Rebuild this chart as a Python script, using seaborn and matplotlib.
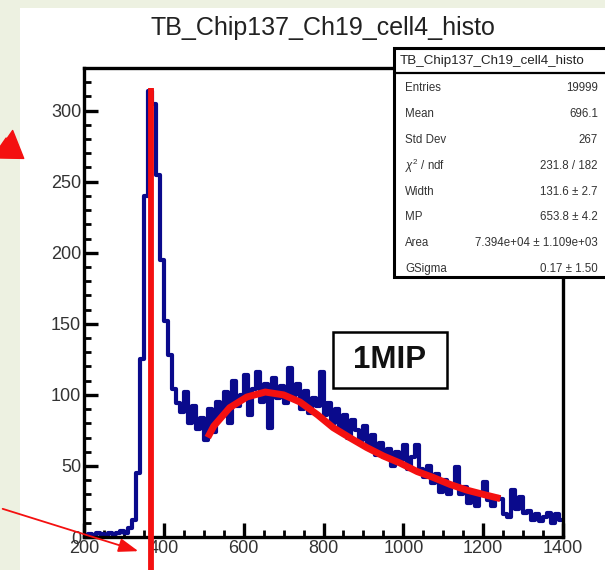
import numpy as np
import pandas as pd
import matplotlib
matplotlib.use("Agg")
import matplotlib.pyplot as plt
from matplotlib.patches import Rectangle, FancyArrowPatch
from matplotlib.ticker import MultipleLocator
import seaborn as sns

# ---------------- data ----------------
title = "TB_Chip137_Ch19_cell4_histo"
bin_lo, bin_width = 200, 10
counts = [0, 2, 1, 3, 2, 1, 3, 2, 3, 4,
          3, 6, 12, 45, 125, 240, 314, 305, 255, 195,
          152, 128, 104, 94, 88, 102, 80, 92, 76, 84,
          68, 90, 74, 95, 85, 102, 80, 110, 92, 100,
          114, 86, 104, 116, 95, 108, 77, 112, 98, 106,
          94, 119, 100, 108, 90, 103, 87, 98, 92, 116,
          86, 94, 80, 90, 74, 86, 70, 82, 75, 68,
          78, 64, 72, 58, 66, 56, 62, 50, 60, 54,
          65, 48, 56, 65, 48, 42, 50, 38, 44, 32,
          40, 30, 36, 49, 30, 35, 24, 32, 22, 30,
          39, 26, 22, 28, 27, 16, 14, 33, 20, 28,
          17, 18, 12, 16, 11, 14, 17, 10, 16, 12]
fit_x = [510, 525, 565, 608, 654, 700, 741, 785, 824, 865, 908, 950, 992, 1035, 1074, 1117, 1159, 1200, 1243]
fit_y = [70, 78, 91, 98.5, 102, 100, 95, 86, 77, 70, 63, 57, 52, 46, 42, 37, 33, 30, 27]
pedestal_x = 368
pedestal_top = 316
stat_labels = ["Entries", "Mean", "Std Dev", r"$\chi^{2}$ / ndf", "Width", "MP", "Area", "GSigma"]
stat_values = ["19999", "696.1", "267", "231.8 / 182", "131.6 \u00b1 2.7", "653.8 \u00b1 4.2",
               "7.394e+04 \u00b1 1.109e+03", "0.17 \u00b1 1.50"]
xticks = [200, 400, 600, 800, 1000, 1200, 1400]
yticks = [0, 50, 100, 150, 200, 250, 300]
mip_label = "1MIP"

nb = len(counts)
centers = [bin_lo + bin_width * (i + 0.5) for i in range(nb)]
df = pd.DataFrame({"adc": centers, "n": counts})
fit_df = pd.DataFrame({"x": fit_x, "y": fit_y})

# ---------------- figure ----------------
W, H = 605, 570
sns.set_style("white")
plt.rcParams["font.family"] = ["Liberation Sans", "DejaVu Sans"]
plt.rcParams["mathtext.fontset"] = "custom"
plt.rcParams["mathtext.rm"] = "Liberation Sans"
plt.rcParams["mathtext.it"] = "Liberation Sans:italic"

fig = plt.figure(figsize=(W / 100, H / 100), dpi=100, facecolor="#edf1e1")
fig.patches.append(Rectangle((20 / W, 0), 1 - 20 / W, 1 - 8 / H, transform=fig.transFigure,
                             facecolor="white", edgecolor="none", zorder=-5))

ax = fig.add_axes([84 / W, 1 - 537 / H, (563 - 84) / W, (537 - 68) / H])
ax.set_zorder(1)
sns.histplot(data=df, x="adc", weights="n", binwidth=bin_width,
             binrange=(bin_lo, bin_lo + nb * bin_width), element="step", fill=False,
             color="#0a0a8c", linewidth=3.0, ax=ax)
sns.lineplot(data=fit_df, x="x", y="y", color="#f41010", linewidth=5.0, ax=ax,
             solid_capstyle="butt")
ax.plot([pedestal_x, pedestal_x], [pedestal_top, -25], color="#f41010", lw=4.2,
        clip_on=False, solid_capstyle="butt", zorder=5)

ax.set_xlim(200, 1400)
ax.set_ylim(0, 330)
ax.set_xlabel("")
ax.set_ylabel("")
ax.set_xticks(xticks)
ax.set_yticks(yticks)
ax.xaxis.set_minor_locator(MultipleLocator(50))
ax.yaxis.set_minor_locator(MultipleLocator(10))
ax.tick_params(which="major", direction="in", length=10, width=2.4, labelsize=13,
               labelcolor="#333333", color="black", pad=2)
ax.tick_params(which="minor", direction="in", length=5, width=2.0, color="black")
ax.tick_params(axis="x", which="both", bottom=True, top=False)
ax.tick_params(axis="y", which="both", left=True, right=False)
for sp in ax.spines.values():
    sp.set_linewidth(2.4)
    sp.set_color("black")

# title
fig.text(323 / W, 1 - 28 / H, title, ha="center", va="center", fontsize=18, color="#222222")

# stats box
bx0, bx1, by0, by1, hy = 394, 608, 48, 277, 73
fig.patches.append(Rectangle((bx0 / W, 1 - by1 / H), (bx1 - bx0) / W, (by1 - by0) / H,
                             transform=fig.transFigure, facecolor="white", edgecolor="black",
                             linewidth=2.2, zorder=10))
fig.lines.append(plt.Line2D([bx0 / W, 1], [1 - hy / H, 1 - hy / H], transform=fig.transFigure,
                            color="black", lw=1.6, zorder=11))
fig.text((bx0 + 6) / W, 1 - 61 / H, title, ha="left", va="center", fontsize=9.6,
         color="#222222", zorder=12)
for i, (lab, val) in enumerate(zip(stat_labels, stat_values)):
    yy = 88 + i * 25.9
    fig.text(405 / W, 1 - yy / H, lab, ha="left", va="center", fontsize=8.3,
             color="#333333", zorder=12)
    fig.text(598 / W, 1 - yy / H, val, ha="right", va="center", fontsize=8.3,
             color="#333333", zorder=12)

# 1MIP box
fig.patches.append(Rectangle((333 / W, 1 - 388 / H), (447 - 333) / W, (388 - 332) / H,
                             transform=fig.transFigure, facecolor="white", edgecolor="black",
                             linewidth=1.8, zorder=10))
fig.text(390 / W, 1 - 360 / H, mip_label, ha="center", va="center", fontsize=22.5,
         fontweight="bold", color="#111111", zorder=12)

# decorative red arrows
fig.patches.append(FancyArrowPatch(
    (0, H - 142), (26, H - 160), transform=None,
    arrowstyle="simple,head_width=2.0,head_length=1.5,tail_width=0.8",
    mutation_scale=12, color="#f41010", zorder=12))
fig.patches.append(FancyArrowPatch(
    (0, H - 508), (141, H - 552), transform=None,
    arrowstyle="-|>,head_width=0.35,head_length=1.0",
    mutation_scale=12, lw=1.3, color="#f41010", zorder=12))

fig.savefig("out.png", dpi=100, facecolor=fig.get_facecolor())
